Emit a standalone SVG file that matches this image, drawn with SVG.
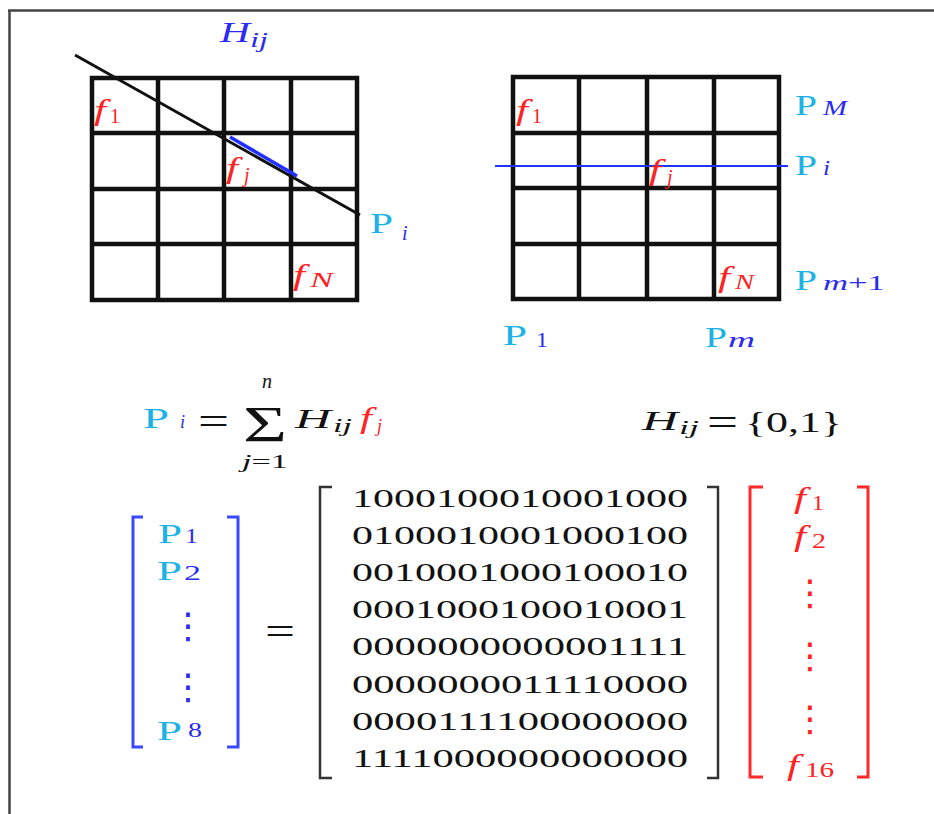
<svg xmlns="http://www.w3.org/2000/svg" width="934" height="814" viewBox="0 0 934 814">
<style>
text{font-family:"Liberation Serif","DejaVu Serif",serif}
.cy{fill:#1cb2e6}
.bl{fill:#2b2bf2;font-style:italic}
.blu{fill:#2b2bf2}
.rd{fill:#ff2222;font-style:italic}
.rdu{fill:#ff2222}
.k{fill:#111}
.it{font-style:italic}
.grid{stroke:#111;stroke-width:4.5;fill:none;stroke-linecap:square}
.dots{font-family:"DejaVu Sans",sans-serif}
</style>
<rect width="934" height="814" fill="#fff"/>
<g id="frame" stroke="#444" stroke-width="2.5" fill="none">
<path d="M8,10.5 H934 M9.5,10 V814"/>
</g>
<g id="grid-left">
<path class="grid" d="M92,78 H357 V300 H92 Z M158,78 V300 M224,78 V300 M291,78 V300 M92,133 H357 M92,189 H357 M92,244 H357"/>
<line x1="75" y1="55" x2="360" y2="215" stroke="#111" stroke-width="3"/>
<line x1="230" y1="137" x2="297" y2="176" stroke="#2030ff" stroke-width="3.5"/>
<text class="bl" x="220" y="42" font-size="30" textLength="30" lengthAdjust="spacingAndGlyphs">H</text>
<text class="bl" x="250" y="47" font-size="20" textLength="18" lengthAdjust="spacingAndGlyphs">ij</text>
<text class="rd" x="94" y="120" font-size="30" textLength="12" lengthAdjust="spacingAndGlyphs">f</text><text class="rdu" x="110" y="123" font-size="20">1</text>
<text class="rd" x="226" y="178" font-size="30" textLength="12" lengthAdjust="spacingAndGlyphs">f</text><text class="rd" x="244" y="182" font-size="20">j</text>
<text class="cy" x="370" y="233" font-size="30" textLength="23" lengthAdjust="spacingAndGlyphs">P</text><text class="bl" x="402" y="240" font-size="20">i</text>
<text class="rd" x="293" y="285" font-size="30" textLength="12" lengthAdjust="spacingAndGlyphs">f</text><text class="rd" x="310" y="287" font-size="22" textLength="23" lengthAdjust="spacingAndGlyphs">N</text>
</g>
<g id="grid-right">
<path class="grid" d="M513,77 H779 V299 H513 Z M579,77 V299 M647,77 V299 M714,77 V299 M513,133 H779 M513,188 H779 M513,244 H779"/>
<line x1="495" y1="166" x2="788" y2="166" stroke="#2030ff" stroke-width="2"/>
<text class="rd" x="516" y="120" font-size="30" textLength="12" lengthAdjust="spacingAndGlyphs">f</text><text class="rdu" x="532" y="123" font-size="20">1</text>
<text class="rd" x="649" y="180" font-size="30" textLength="12" lengthAdjust="spacingAndGlyphs">f</text><text class="rd" x="667" y="184" font-size="20">j</text>
<text class="rd" x="718" y="287" font-size="30" textLength="12" lengthAdjust="spacingAndGlyphs">f</text><text class="rd" x="735" y="289" font-size="22" textLength="19" lengthAdjust="spacingAndGlyphs">N</text>
<text class="cy" x="795" y="115" font-size="30" textLength="22" lengthAdjust="spacingAndGlyphs">P</text><text class="bl" x="823" y="115" font-size="20" textLength="24" lengthAdjust="spacingAndGlyphs">M</text>
<text class="cy" x="795" y="175" font-size="30" textLength="22" lengthAdjust="spacingAndGlyphs">P</text><text class="bl" x="823" y="175" font-size="20" textLength="7" lengthAdjust="spacingAndGlyphs">i</text>
<text class="cy" x="795" y="290" font-size="30" textLength="22" lengthAdjust="spacingAndGlyphs">P</text><text class="blu" x="823" y="290" font-size="22" textLength="62" lengthAdjust="spacingAndGlyphs"><tspan class="it">m</tspan>+1</text>
<text class="cy" x="503" y="345" font-size="30" textLength="24" lengthAdjust="spacingAndGlyphs">P</text><text class="blu" x="536" y="347" font-size="22" textLength="12" lengthAdjust="spacingAndGlyphs">1</text>
<text class="cy" x="705" y="347" font-size="30" textLength="22" lengthAdjust="spacingAndGlyphs">P</text><text class="bl" x="728" y="347" font-size="22" textLength="27" lengthAdjust="spacingAndGlyphs">m</text>
</g>
<g id="equation-sum">
<text class="cy" x="143" y="428" font-size="30" textLength="26" lengthAdjust="spacingAndGlyphs">P</text><text class="bl" x="180" y="428" font-size="18">i</text>
<text class="k" x="198" y="435" font-size="40" textLength="31" lengthAdjust="spacingAndGlyphs">=</text>
<text class="k" x="243" y="441" font-size="50" textLength="44" lengthAdjust="spacingAndGlyphs">Σ</text>
<text class="k it" x="262" y="388" font-size="20">n</text>
<text class="k" x="242" y="468" font-size="18" textLength="46" lengthAdjust="spacingAndGlyphs"><tspan class="it">j</tspan>=1</text>
<text class="k it" x="295" y="428" font-size="28" textLength="36" lengthAdjust="spacingAndGlyphs">H</text><text class="k it" x="333" y="432" font-size="18" textLength="19" lengthAdjust="spacingAndGlyphs">ij</text>
<text class="rd" x="360" y="428" font-size="30" textLength="12" lengthAdjust="spacingAndGlyphs">f</text><text class="rd" x="377" y="432" font-size="18">j</text>
</g>
<g id="equation-h">
<text class="k it" x="642" y="430" font-size="28" textLength="36" lengthAdjust="spacingAndGlyphs">H</text><text class="k it" x="679" y="434" font-size="18" textLength="20" lengthAdjust="spacingAndGlyphs">ij</text>
<text class="k" x="707" y="436" font-size="40" textLength="31" lengthAdjust="spacingAndGlyphs">=</text>
<text class="k" x="745" y="432" font-size="30" textLength="97" lengthAdjust="spacingAndGlyphs">{0,1}</text>
</g>
<g id="vector-p">
<path d="M143,517 H133 V747 H143 M227,517 H238 V747 H227" stroke="#3a48ff" stroke-width="3" fill="none"/>
<text class="cy" x="158" y="543" font-size="28" textLength="24" lengthAdjust="spacingAndGlyphs">P</text><text class="blu" x="185" y="543" font-size="22" textLength="13" lengthAdjust="spacingAndGlyphs">1</text>
<text class="cy" x="157" y="580" font-size="28" textLength="25" lengthAdjust="spacingAndGlyphs">P</text><text class="blu" x="184" y="580" font-size="22" textLength="17" lengthAdjust="spacingAndGlyphs">2</text>
<text class="blu dots" x="188" y="638" font-size="36" text-anchor="middle">⋮</text>
<text class="blu dots" x="188" y="699" font-size="36" text-anchor="middle">⋮</text>
<text class="cy" x="157" y="740" font-size="28" textLength="25" lengthAdjust="spacingAndGlyphs">P</text><text class="blu" x="188" y="737" font-size="22" textLength="14" lengthAdjust="spacingAndGlyphs">8</text>
</g>
<text class="k" x="265" y="645" font-size="40" textLength="30" lengthAdjust="spacingAndGlyphs">=</text>
<g id="matrix-h">
<path d="M332,487 H320 V778 H332 M707,487 H718 V778 H707" stroke="#333" stroke-width="2.5" fill="none"/>
<g class="k" font-size="25">
<text x="352" y="507" textLength="336" lengthAdjust="spacingAndGlyphs">1000100010001000</text>
<text x="352" y="544" textLength="336" lengthAdjust="spacingAndGlyphs">0100010001000100</text>
<text x="352" y="581" textLength="336" lengthAdjust="spacingAndGlyphs">0010001000100010</text>
<text x="352" y="618" textLength="336" lengthAdjust="spacingAndGlyphs">0001000100010001</text>
<text x="352" y="655" textLength="336" lengthAdjust="spacingAndGlyphs">0000000000001111</text>
<text x="352" y="693" textLength="336" lengthAdjust="spacingAndGlyphs">0000000011110000</text>
<text x="352" y="730" textLength="336" lengthAdjust="spacingAndGlyphs">0000111100000000</text>
<text x="352" y="767" textLength="336" lengthAdjust="spacingAndGlyphs">1111000000000000</text>
</g>
</g>
<g id="vector-f">
<path d="M763,487 H750 V777 H763 M857,487 H868 V777 H857" stroke="#ff2a2a" stroke-width="3" fill="none"/>
<text class="rd" x="794" y="508" font-size="30" textLength="12" lengthAdjust="spacingAndGlyphs">f</text><text class="rdu" x="812" y="510" font-size="20" textLength="12" lengthAdjust="spacingAndGlyphs">1</text>
<text class="rd" x="794" y="546" font-size="30" textLength="12" lengthAdjust="spacingAndGlyphs">f</text><text class="rdu" x="812" y="548" font-size="20" textLength="14" lengthAdjust="spacingAndGlyphs">2</text>
<text class="rdu dots" x="810" y="605" font-size="36" text-anchor="middle">⋮</text>
<text class="rdu dots" x="810" y="668" font-size="36" text-anchor="middle">⋮</text>
<text class="rdu dots" x="810" y="731" font-size="36" text-anchor="middle">⋮</text>
<text class="rd" x="787" y="775" font-size="30" textLength="12" lengthAdjust="spacingAndGlyphs">f</text><text class="rdu" x="805" y="777" font-size="20" textLength="29" lengthAdjust="spacingAndGlyphs">16</text>
</g>
</svg>
